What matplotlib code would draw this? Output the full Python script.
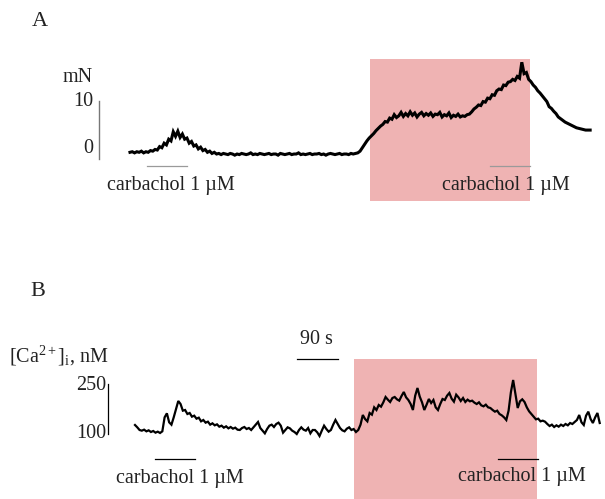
import numpy as np
import matplotlib
matplotlib.use("Agg")
import matplotlib.pyplot as plt

plt.rcParams['font.family'] = ['Liberation Serif', 'DejaVu Serif']
plt.rcParams['mathtext.fontset'] = 'custom'
plt.rcParams['mathtext.rm'] = 'Liberation Serif'
plt.rcParams['mathtext.it'] = 'Liberation Serif:italic'

# ---------------- data ----------------
dt = 5.0  # s, sampling interval of the traces

# Panel A: isometric force (mN)
force_mN = [
    1.0, 1.1, 0.9, 1.1, 1.0, 1.2, 0.9, 1.1, 1.0, 1.3,
    1.2, 1.5, 1.4, 2.0, 1.8, 2.6, 2.3, 3.3, 3.0, 4.6,
    3.8, 4.7, 3.6, 4.2, 3.3, 3.5, 2.6, 2.9, 2.1, 2.3,
    1.6, 1.9, 1.3, 1.5, 1.0, 1.2, 0.8, 1.0, 0.7, 0.8,
    0.6, 0.8, 0.7, 0.6, 0.8, 0.7, 0.5, 0.7, 0.6, 0.8,
    0.7, 0.6, 0.7, 0.9, 0.6, 0.7, 0.6, 0.8, 0.7, 0.6,
    0.7, 0.8, 0.6, 0.7, 0.7, 0.5, 0.8, 0.7, 0.6, 0.7,
    0.8, 0.6, 0.7, 0.7, 0.9, 0.6, 0.7, 0.6, 0.7, 0.8,
    0.6, 0.7, 0.7, 0.8, 0.6, 0.7, 0.5, 0.7, 0.8, 0.7,
    0.6, 0.7, 0.8, 0.6, 0.7, 0.7, 0.6, 0.8, 0.7, 0.8,
    0.9, 1.2, 1.8, 2.4, 3.0, 3.5, 3.9, 4.3, 4.8, 5.2,
    5.6, 5.9, 6.4, 6.3, 7.0, 6.8, 7.6, 7.1, 7.4, 8.0,
    7.3, 7.8, 7.4, 8.1, 7.5, 7.9, 7.2, 7.7, 8.0, 7.4,
    7.8, 7.5, 7.9, 7.3, 7.7, 7.6, 8.0, 7.2, 7.6, 7.4,
    7.9, 7.1, 7.5, 7.3, 7.7, 7.2, 7.4, 7.3, 7.6, 7.7,
    8.1, 8.6, 8.9, 9.3, 9.2, 9.9, 9.8, 10.5, 10.4, 11.1,
    11.0, 11.8, 12.1, 12.0, 12.8, 12.7, 13.3, 13.4, 13.8, 13.6,
    14.3, 14.0, 16.8, 14.8, 15.0, 13.8, 13.4, 12.8, 12.4, 11.8,
    11.4, 10.9, 10.4, 9.9, 9.0, 8.7, 8.2, 7.8, 7.2, 6.9,
    6.6, 6.3, 6.1, 5.9, 5.7, 5.5, 5.3, 5.2, 5.1, 5.0,
    4.9, 4.9, 4.9,
]

# Panel B: intracellular calcium (nM)
ca_nM = [
    127, 120, 112, 110, 113, 108, 111, 106, 109, 104,
    107, 103, 108, 150, 162, 135, 128, 150, 175, 199,
    190, 170, 172, 160, 163, 152, 155, 146, 149, 138,
    142, 134, 137, 128, 132, 126, 129, 122, 125, 119,
    123, 117, 121, 116, 119, 113, 112, 118, 121, 115,
    118, 112, 120, 128, 136, 118, 110, 102, 115, 125,
    128, 121, 130, 134, 125, 104, 112, 120, 117, 110,
    106, 100, 112, 120, 113, 110, 118, 102, 112, 112,
    105, 94, 110, 125, 115, 107, 112, 128, 142, 130,
    118, 111, 108, 116, 120, 112, 115, 106, 112, 128,
    157, 145, 138, 163, 158, 180, 172, 187, 182, 195,
    211, 203, 196, 208, 211, 204, 200, 214, 226, 210,
    202, 190, 172, 215, 238, 212, 195, 172, 188, 205,
    193, 202, 180, 172, 190, 205, 202, 215, 223, 206,
    197, 218, 210, 199, 208, 196, 203, 198, 200, 194,
    190, 195, 186, 183, 188, 180, 178, 172, 167, 170,
    160, 156, 150, 142, 170, 225, 262, 220, 178, 198,
    204, 196, 180, 168, 160, 152, 144, 146, 138, 140,
    137, 130, 124, 128, 121, 126, 122, 128, 124, 130,
    126, 133, 130, 136, 142, 157, 135, 127, 155, 167,
    145, 133, 150, 163, 133,
]

# treatment periods (s) and carbachol applications (s)
shade_A = (527, 878)
carbachol_A = [(37, 125), (790, 878)]
shade_B = (481, 882)
carbachol_B = [(44, 132), (797, 885)]

# scale bars
force_bar = (0, 10)        # mN
ca_bar = (100, 250)        # nM
time_bar = 90              # s

t_A = np.arange(len(force_mN)) * dt
t_B = np.arange(len(ca_nM)) * dt

# ---------------- figure ----------------
W, H = 605, 499
fig = plt.figure(figsize=(W / 100, H / 100), dpi=100)

def fx(x):
    return x / W

def fy(y):
    return 1 - y / H

pink = '#efb3b3'

# Panel A axes: pixel rows 0..250
axA = fig.add_axes([0, fy(250), 1, 250 / H])
axA.set_xlim(-285.3, 1042.6)
axA.set_ylim(-16.14, 27.72)
axA.axis('off')
axA.axvspan(shade_A[0], shade_A[1], ymin=0.196, ymax=0.764, color=pink, lw=0, zorder=0)
axA.plot(t_A, force_mN, color='black', lw=2.2, zorder=3, solid_joinstyle='miter')
for a, b in carbachol_A:
    axA.plot([a, b], [-1.4, -1.4], color='#9a9a9a', lw=0.9, zorder=2)
axA.plot([-68, -68], [force_bar[0] - 0.1, force_bar[1]], color='#777777', lw=1.0)

# Panel B axes: pixel rows 250..499
axB = fig.add_axes([0, 0, 1, 249 / H])
axB.set_xlim(-296.3, 1031.6)
axB.set_ylim(-95, 652)
axB.axis('off')
axB.axvspan(shade_B[0], shade_B[1], ymin=0, ymax=0.562, color=pink, lw=0, zorder=0)
axB.plot(t_B, ca_nM, color='black', lw=1.6, zorder=3, solid_joinstyle='miter')
for a, b in carbachol_B:
    axB.plot([a, b], [24, 24], color='black', lw=0.9, zorder=2)
axB.plot([-59.3, -59.3], [ca_bar[0], ca_bar[1]], color='black', lw=0.9)
axB.plot([355.6, 355.6 + time_bar], [325, 325], color='black', lw=0.9)

# ---------------- text ----------------
fs = 14.5
tc = '#222222'
fig.text(fx(40), fy(22), 'A', fontsize=16, ha='center', va='center', color=tc)
fig.text(fx(38), fy(291), 'B', fontsize=16, ha='center', va='center', color=tc)

fig.text(fx(78), fy(77), 'mN', fontsize=fs, ha='center', va='center', color=tc)
fig.text(fx(93), fy(101), '10', fontsize=fs, ha='right', va='center', color=tc)
fig.text(fx(93), fy(148), '0', fontsize=fs, ha='right', va='center', color=tc)

fig.text(fx(171), fy(186), 'carbachol 1 µM', fontsize=fs, ha='center', va='center', color=tc)
fig.text(fx(506), fy(186), 'carbachol 1 µM', fontsize=fs, ha='center', va='center', color=tc)

fig.text(fx(59), fy(356), r'[Ca$^{\mathrm{2+}}$]$_{\mathrm{i}}$, nM', fontsize=fs,
         ha='center', va='center', color=tc)
fig.text(fx(106), fy(385), '250', fontsize=fs, ha='right', va='center', color=tc)
fig.text(fx(106), fy(433), '100', fontsize=fs, ha='right', va='center', color=tc)
fig.text(fx(316), fy(340), '90 s', fontsize=fs, ha='center', va='center', color=tc)

fig.text(fx(180), fy(478), 'carbachol 1 µM', fontsize=fs, ha='center', va='center', color=tc)
fig.text(fx(522), fy(477), 'carbachol 1 µM', fontsize=fs, ha='center', va='center', color=tc)

fig.savefig('out.png', dpi=100)
